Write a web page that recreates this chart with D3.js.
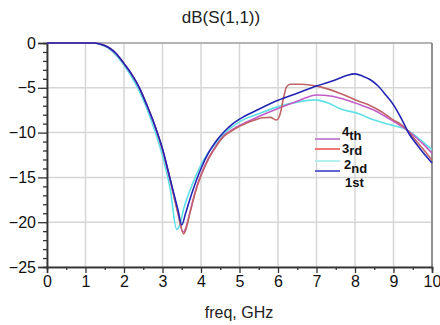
<!DOCTYPE html>
<html><head><meta charset="utf-8">
<script src="https://cdn.jsdelivr.net/npm/d3@7"></script>
<style>body{margin:0;background:#fff}svg{display:block}text{font-family:"Liberation Sans",Arial,sans-serif}</style>
</head><body><svg id="c" width="440" height="325"></svg>
<script>
const xTicks = [0,1,2,3,4,5,6,7,8,9,10];
const yTicks = [0,-5,-10,-15,-20,-25];

const f1 = [0,1.0,1.2,1.4,1.6,1.8,2.0,2.2,2.4,2.6,2.8,3.0,3.2,3.4,3.5,3.6,3.7,3.8,3.9,4.0,4.2,4.4,4.6,4.8,5.0,5.5,6.0,6.5,7.0,7.5,7.8,8.0,8.2,8.4,8.6,8.8,9.0,9.2,9.4,9.6,9.8,10];
const s1 = [0,0,0,-0.15,-0.5,-1.2,-2.3,-3.5,-5.0,-7.0,-9.2,-11.8,-15.2,-18.6,-20.3,-19.0,-17.6,-16.3,-15.1,-14.0,-12.2,-10.9,-9.9,-9.1,-8.5,-7.4,-6.4,-5.6,-4.8,-4.1,-3.6,-3.45,-3.7,-4.1,-4.8,-5.8,-6.9,-8.4,-10.1,-11.3,-12.4,-13.4];

const f2 = [0,1.0,1.2,1.4,1.6,1.8,2.0,2.2,2.4,2.6,2.8,3.0,3.2,3.37,3.45,3.55,3.7,3.85,4.0,4.2,4.4,4.6,4.8,5.0,5.5,6.0,6.5,6.95,7.3,7.6,8.1,8.5,8.9,9.35,9.7,10];
const s2 = [0,0,0,-0.2,-0.6,-1.4,-2.5,-3.8,-5.4,-7.4,-9.8,-12.6,-16.3,-20.8,-20.3,-18.5,-16.6,-15.0,-13.6,-12.2,-11.1,-10.1,-9.4,-8.8,-7.9,-7.1,-6.6,-6.35,-6.7,-7.3,-7.9,-8.6,-9.1,-9.7,-10.8,-11.9];

const f3 = [0,1.0,1.2,1.4,1.6,1.8,2.0,2.2,2.4,2.6,2.8,3.0,3.2,3.4,3.55,3.6,3.7,3.8,3.9,4.0,4.2,4.4,4.6,4.8,5.0,5.2,5.4,5.6,5.8,5.95,6.05,6.15,6.22,6.32,6.6,7.1,7.6,8.1,8.4,8.7,9.0,9.2,9.35,9.6,9.8,10];
const s3 = [0,0,0,-0.15,-0.5,-1.2,-2.3,-3.5,-5.0,-7.0,-9.2,-11.9,-15.3,-19.0,-21.3,-20.9,-19.2,-17.5,-16.0,-14.8,-12.9,-11.5,-10.4,-9.8,-9.3,-8.9,-8.6,-8.35,-8.3,-8.6,-8.0,-6.0,-4.9,-4.6,-4.6,-4.9,-5.6,-6.5,-7.0,-7.7,-8.6,-9.1,-9.7,-11.0,-12.0,-13.1];

const f4 = [0,1.0,1.2,1.4,1.6,1.8,2.0,2.2,2.4,2.6,2.8,3.0,3.2,3.4,3.53,3.6,3.7,3.8,3.9,4.0,4.2,4.4,4.6,4.8,5.0,5.2,5.5,6.0,6.5,7.0,7.4,7.8,8.2,8.5,8.9,9.1,9.35,9.6,9.8,10];
const s4 = [0,0,0,-0.15,-0.5,-1.2,-2.3,-3.5,-5.0,-7.0,-9.2,-11.9,-15.3,-18.9,-21.1,-20.7,-19.1,-17.4,-15.9,-14.7,-12.8,-11.4,-10.3,-9.7,-9.2,-8.8,-8.2,-7.3,-6.5,-5.8,-5.95,-6.4,-7.0,-7.5,-8.5,-9.0,-9.7,-10.6,-11.4,-12.3];

const seriesNames = ["1st","2nd","3rd","4th"];

const svg = d3.select("#c");
const L = 47, R = 432, T = 43, B = 267;
const x = d3.scaleLinear().domain([0,10]).range([L,R]);
const y = d3.scaleLinear().domain([-25,0]).range([B,T]);

// grid
const g = svg.append("g");
g.selectAll(".gx").data(xTicks).join("line")
  .attr("x1",d=>x(d)).attr("x2",d=>x(d)).attr("y1",T).attr("y2",B)
  .attr("stroke","#d6d6d6").attr("stroke-width",1.5);
g.selectAll(".gy").data(yTicks).join("line")
  .attr("x1",L).attr("x2",R).attr("y1",d=>y(d)).attr("y2",d=>y(d))
  .attr("stroke","#d6d6d6").attr("stroke-width",1.5);
// borders
svg.append("line").attr("x1",L).attr("x2",R).attr("y1",T).attr("y2",T).attr("stroke","#888").attr("stroke-width",1);
svg.append("line").attr("x1",R).attr("x2",R).attr("y1",T).attr("y2",B).attr("stroke","#777").attr("stroke-width",1.5);

// axes
const xAxis = d3.axisBottom(x).tickValues(xTicks).tickSize(6).tickPadding(3);
const xMinor = d3.axisBottom(x).tickValues(d3.range(0.5,10,1)).tickSize(3).tickFormat("");
const yAxis = d3.axisLeft(y).tickValues(yTicks).tickSize(9).tickPadding(2);
const yMinor = d3.axisLeft(y).tickValues(d3.range(-24,0,1).filter(v=>v%5!==0)).tickSize(4).tickFormat("");

function style(sel){
  sel.select(".domain").attr("stroke","#333").attr("stroke-width",1.5);
  sel.selectAll(".tick line").attr("stroke","#333").attr("stroke-width",1.3);
  sel.selectAll(".tick text").attr("fill","#111").style("font-size","16px").style("font-family","'Liberation Sans',Arial,sans-serif");
}
svg.append("g").attr("transform",`translate(0,${B})`).call(xMinor).call(style);
svg.append("g").attr("transform",`translate(0,${B})`).call(xAxis).call(style);
svg.append("g").attr("transform",`translate(${L},0)`).call(yMinor).call(style);
svg.append("g").attr("transform",`translate(${L},0)`).call(yAxis).call(style);

// curves
const line = d3.line().x(d=>x(d[0])).y(d=>y(d[1])).curve(d3.curveMonotoneX);
const curves = [
  {f:f2,s:s2,c:"#5ee0e6"},
  {f:f4,s:s4,c:"#c25cc8"},
  {f:f3,s:s3,c:"#c06468"},
  {f:f1,s:s1,c:"#2424b4"}
];
curves.forEach(cv=>{
  svg.append("path").datum(cv.f.map((v,i)=>[v,cv.s[i]]))
    .attr("d",line).attr("fill","none").attr("stroke",cv.c).attr("stroke-width",1.6);
});

// legend
const leg = [
  {n:"4",suf:"th",ly:139,tx:342,ty:136,dy:4,c:"#c88ad4"},
  {n:"3",suf:"rd",ly:149,tx:342,ty:153,dy:2,c:"#f07878"},
  {n:"2",suf:"nd",ly:161,tx:344,ty:169,dy:4,c:"#b4f0f0"},
  {n:"1",suf:"st",ly:171,tx:345,ty:187,dy:0,c:"#6464d4"}
];
leg.forEach(l=>{
  svg.append("line").attr("x1",315).attr("x2",340).attr("y1",l.ly).attr("y2",l.ly).attr("stroke",l.c).attr("stroke-width",2);
  const t = svg.append("text").attr("x",l.tx).attr("y",l.ty).attr("fill","#111").style("font-size","13px").style("font-weight","bold");
  t.append("tspan").text(l.n);
  t.append("tspan").attr("dy",l.dy).text(l.suf);
});

// titles
svg.append("text").attr("x",221).attr("y",23).attr("text-anchor","middle").attr("fill","#222").style("font-size","17px").text("dB(S(1,1))");
svg.append("text").attr("x",239).attr("y",318).attr("text-anchor","middle").attr("fill","#222").style("font-size","16px").text("freq, GHz");
</script></body></html>
